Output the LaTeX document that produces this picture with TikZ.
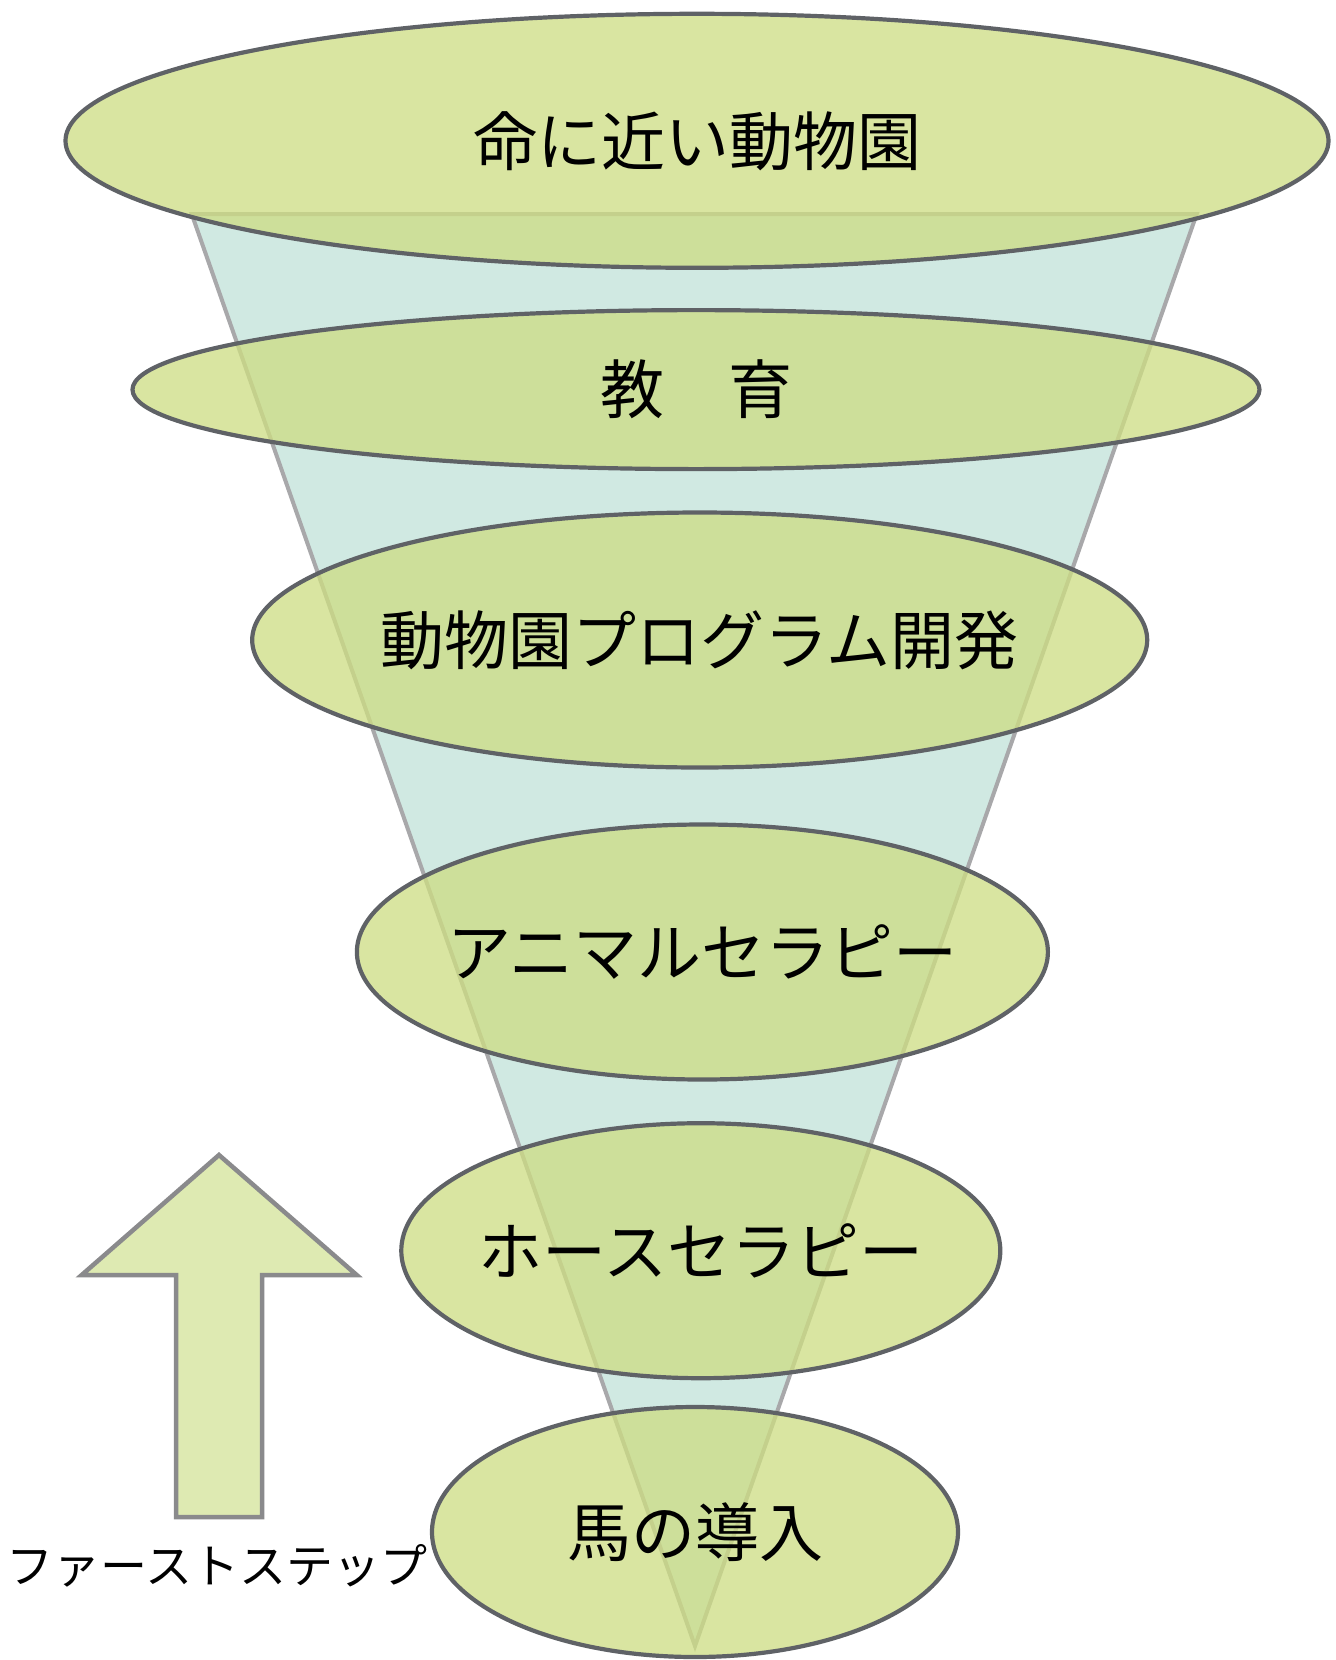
\documentclass[tikz,border=0pt]{standalone}
\usepackage{fontspec}
\setmainfont{Noto Sans CJK JP}
\usetikzlibrary{shapes.geometric}
\definecolor{ellfill}{HTML}{CDDD83}
\definecolor{ellline}{HTML}{5F6266}
\definecolor{trifill}{HTML}{D0E9E2}
\definecolor{triline}{HTML}{A8A8AA}
\definecolor{arrfill}{HTML}{DEEAB2}
\definecolor{arrline}{HTML}{8A8A8C}
\tikzset{
  stage/.style={ellipse, draw=ellline, line width=4.2pt, fill=ellfill, fill opacity=0.755,
    draw opacity=1, inner sep=0pt, outer sep=0pt},
  stagetext/.style={inner sep=0pt, font=\fontsize{64}{70}\selectfont, text=black},
  funnel/.style={fill=trifill, draw=triline, line width=4pt, line join=miter},
  uparrow/.style={fill=arrfill, draw=arrline, line width=4.5pt, line join=miter},
}
\begin{document}
\begin{tikzpicture}[x=1pt,y=-1pt]
\useasboundingbox (0,0) rectangle (1336,1660);
\fill[white] (0,0) rectangle (1336,1660);
% funnel
\coordinate (tl) at (191.7,214);
\coordinate (tr) at (1196.7,214);
\coordinate (ap) at (695,1646);
\draw[funnel] (tl) -- (tr) -- (ap) -- cycle;
% stages
\node[stage, minimum width=1263pt, minimum height=254pt] (s1) at (697,140.8) {};
\node[stage, minimum width=1127pt, minimum height=159pt] (s2) at (696,389.6) {};
\node[stage, minimum width=895pt, minimum height=255pt] (s3) at (699.7,640) {};
\node[stage, minimum width=691pt, minimum height=255pt] (s4) at (702.4,952) {};
\node[stage, minimum width=599pt, minimum height=255pt] (s5) at (700.8,1250.7) {};
\node[stage, minimum width=526pt, minimum height=250pt] (s6) at (695,1532) {};
\node[stagetext] (t1) at (s1) {命に近い動物園};
\node[stagetext] (t2) at (s2) {教　育};
\node[stagetext] (t3) at (s3) {動物園プログラム開発};
\node[stagetext] (t4) at (s4) {アニマルセラピー};
\node[stagetext] (t5) at (s5) {ホースセラピー};
\node[stagetext] (t6) at (s6) {馬の導入};
% arrow
\draw[uparrow] (219,1155) -- (356.7,1275) -- (262,1275) -- (262,1517) -- (176,1517) -- (176,1275) -- (81.7,1275) -- cycle;
\node[font=\fontsize{47}{52}\selectfont, inner sep=0pt] (fs) at (217,1566) {ファーストステップ};
\end{tikzpicture}
\end{document}
